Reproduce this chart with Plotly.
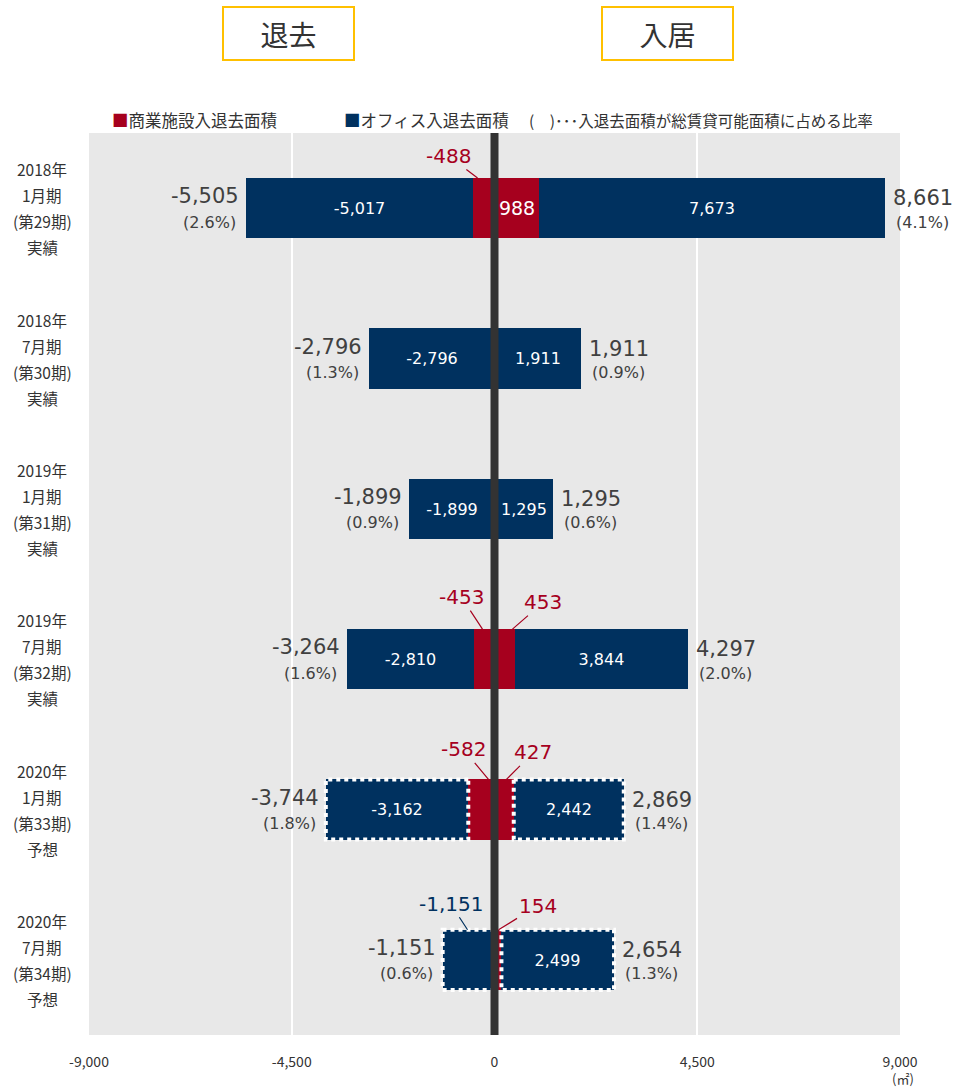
import plotly.graph_objects as go

# ---------------- data ----------------
period_lines = [
    ["2018年", "1月期", "(第29期)", "実績"],
    ["2018年", "7月期", "(第30期)", "実績"],
    ["2019年", "1月期", "(第31期)", "実績"],
    ["2019年", "7月期", "(第32期)", "実績"],
    ["2020年", "1月期", "(第33期)", "予想"],
    ["2020年", "7月期", "(第34期)", "予想"],
]
com_out = [-488, 0, 0, -453, -582, 0]
off_out = [-5017, -2796, -1899, -2810, -3162, -1151]
com_in = [988, 0, 0, 453, 427, 154]
off_in = [7673, 1911, 1295, 3844, 2442, 2499]
tot_out = [-5505, -2796, -1899, -3264, -3744, -1151]
tot_in = [8661, 1911, 1295, 4297, 2869, 2654]
pct_out = ["2.6%", "1.3%", "0.9%", "1.6%", "1.8%", "0.6%"]
pct_in = ["4.1%", "0.9%", "0.6%", "2.0%", "1.4%", "1.3%"]
forecast = [False, False, False, False, True, True]
x_ticks = [-9000, -4500, 0, 4500, 9000]

# ---------------- style ----------------
RED = "#A6001E"
BLUE = "#00315F"
TXT = "#404040"
FONT = "Noto Sans CJK JP"
NUM = "DejaVu Sans"
W, H = 955, 1087
L, R, T, B = 89, 900, 133, 1035
BAR_W = 0.4

def px_x(p):
    return (p - L) / (R - L)

def px_y(p):
    return (B - p) / (B - T)

def fmt(v):
    return f"{v:,}"

n = len(period_lines)
ys = list(range(n))

fig = go.Figure()

off_out_text = [fmt(v) for v in off_out]
off_out_text[5] = ""
com_in_text = ["" for _ in com_in]
com_in_text[0] = fmt(com_in[0])

fig.add_trace(go.Bar(y=ys, x=com_out, orientation="h", width=BAR_W, name="商業施設入退去面積",
                     marker=dict(color=RED, line=dict(width=0)), showlegend=False, hoverinfo="x"))
fig.add_trace(go.Bar(y=ys, x=off_out, orientation="h", width=BAR_W, name="オフィス入退去面積",
                     marker=dict(color=BLUE, line=dict(width=0)), showlegend=False,
                     text=off_out_text, textposition="inside", insidetextanchor="middle",
                     textangle=0, constraintext="none",
                     insidetextfont=dict(color="white", size=16, family=NUM), hoverinfo="x"))
fig.add_trace(go.Bar(y=ys, x=com_in, orientation="h", width=BAR_W, name="商業施設入退去面積",
                     marker=dict(color=RED, line=dict(width=0)), showlegend=False,
                     text=com_in_text, textposition="inside", insidetextanchor="middle",
                     textangle=0, constraintext="none",
                     insidetextfont=dict(color="white", size=19, family=NUM), hoverinfo="x"))
fig.add_trace(go.Bar(y=ys, x=off_in, orientation="h", width=BAR_W, name="オフィス入退去面積",
                     marker=dict(color=BLUE, line=dict(width=0)), showlegend=False,
                     text=[fmt(v) for v in off_in], textposition="inside", insidetextanchor="middle",
                     textangle=0, constraintext="none",
                     insidetextfont=dict(color="white", size=16, family=NUM), hoverinfo="x"))

shapes = []
# dotted outlines for forecast bars
for i in ys:
    if forecast[i]:
        for c, o in ((com_out[i], off_out[i]), (com_in[i], off_in[i])):
            shapes.append(dict(type="rect", xref="x", yref="y", x0=c, x1=c + o,
                               y0=i - BAR_W / 2, y1=i + BAR_W / 2, layer="above",
                               line=dict(color="white", width=4, dash="4px,4px")))
# central axis line
shapes.append(dict(type="line", xref="x", yref="paper", x0=0, x1=0, y0=0, y1=1,
                   layer="above", line=dict(color="#333333", width=8)))

ann = []
# category labels (4 lines each)
offsets = [-39, -13, 13, 39]
for i, lines in enumerate(period_lines):
    for ln, off in zip(lines, offsets):
        ann.append(dict(xref="paper", yref="y", x=px_x(42), y=i, yshift=-off, text=ln,
                        showarrow=False, xanchor="center", yanchor="middle",
                        font=dict(size=15.5, color="#333333", family=FONT)))

# totals with percentages
for i in ys:
    ann.append(dict(xref="x", yref="y", x=tot_out[i], y=i, xshift=-5, yshift=12,
                    text=fmt(tot_out[i]), showarrow=False, xanchor="right", yanchor="middle",
                    font=dict(size=21, color=TXT, family=NUM)))
    ann.append(dict(xref="x", yref="y", x=tot_out[i], y=i, xshift=-8, yshift=-14,
                    text=f"({pct_out[i]})", showarrow=False, xanchor="right", yanchor="middle",
                    font=dict(size=16, color=TXT, family=NUM)))
    ann.append(dict(xref="x", yref="y", x=tot_in[i], y=i, xshift=6, yshift=10,
                    text=fmt(tot_in[i]), showarrow=False, xanchor="left", yanchor="middle",
                    font=dict(size=21, color=TXT, family=NUM)))
    ann.append(dict(xref="x", yref="y", x=tot_in[i], y=i, xshift=9, yshift=-14,
                    text=f"({pct_in[i]})", showarrow=False, xanchor="left", yanchor="middle",
                    font=dict(size=16, color=TXT, family=NUM)))

# small-value labels with leader lines: (row, series, color, fraction, ax, ay)
callouts = [
    (0, com_out, RED, 0.77, -29, -22),
    (3, com_out, RED, 0.59, -21, -32),
    (3, com_in, RED, 0.88, 31, -27),
    (4, com_out, RED, 0.23, -25, -30),
    (4, com_in, RED, 0.62, 27, -27),
    (5, off_out, BLUE, 0.52, -17, -26),
    (5, com_in, RED, 0.58, 39, -24),
]
for row, series, col, frac, ax, ay in callouts:
    ann.append(dict(xref="x", yref="y", x=series[row] * frac, y=row - BAR_W / 2,
                    text=fmt(series[row]), showarrow=True, arrowhead=0, arrowwidth=1.2,
                    arrowcolor=col, ax=ax, ay=ay, standoff=0,
                    font=dict(size=20, color=col, family=NUM)))

# header boxes
for label, cx, cy in (("退去", 288, 34), ("入居", 667, 34)):
    ann.append(dict(xref="paper", yref="paper", x=px_x(cx), y=px_y(cy), text=label,
                    showarrow=False, xanchor="center", yanchor="middle",
                    width=129, height=51, borderpad=0, bordercolor="#FFC000", borderwidth=2,
                    font=dict(size=28, color="#333333", family=FONT)))

# legend (custom)
legend_items = [
    (110, f"<span style='color:{RED}'>■</span>商業施設入退去面積", 16.5),
    (342, f"<span style='color:{BLUE}'>■</span>オフィス入退去面積", 16.5),
    (527, "(　)･･･入退去面積が総賃貸可能面積に占める比率", 15.5),
]
for x0, txt, fs in legend_items:
    ann.append(dict(xref="paper", yref="paper", x=px_x(x0), y=px_y(120), text=txt,
                    showarrow=False, xanchor="left", yanchor="middle",
                    font=dict(size=fs, color="#333333", family=FONT)))

# unit
ann.append(dict(xref="paper", yref="paper", x=px_x(903), y=px_y(1078), text="(㎡)",
                showarrow=False, xanchor="center", yanchor="middle",
                font=dict(size=13, color="#333333", family=FONT)))

fig.update_layout(
    width=W, height=H,
    margin=dict(l=L, r=W - R, t=T, b=H - B, pad=0),
    barmode="relative",
    bargap=0,
    paper_bgcolor="white",
    plot_bgcolor="#E8E8E8",
    font=dict(family=FONT, color="#333333"),
    showlegend=False,
    shapes=shapes,
    annotations=ann,
    xaxis=dict(range=[-9000, 9000], tickvals=x_ticks, ticktext=[fmt(v) for v in x_ticks],
               showgrid=True, gridcolor="white", gridwidth=2, zeroline=False,
               ticks="outside", ticklen=14, tickcolor="rgba(0,0,0,0)",
               tickfont=dict(size=14, color="#333333", family=FONT), showline=False),
    yaxis=dict(range=[n - 0.5, -0.5], showticklabels=False, showgrid=False, zeroline=False,
               ticks=""),
)

fig.write_html("out.html")
